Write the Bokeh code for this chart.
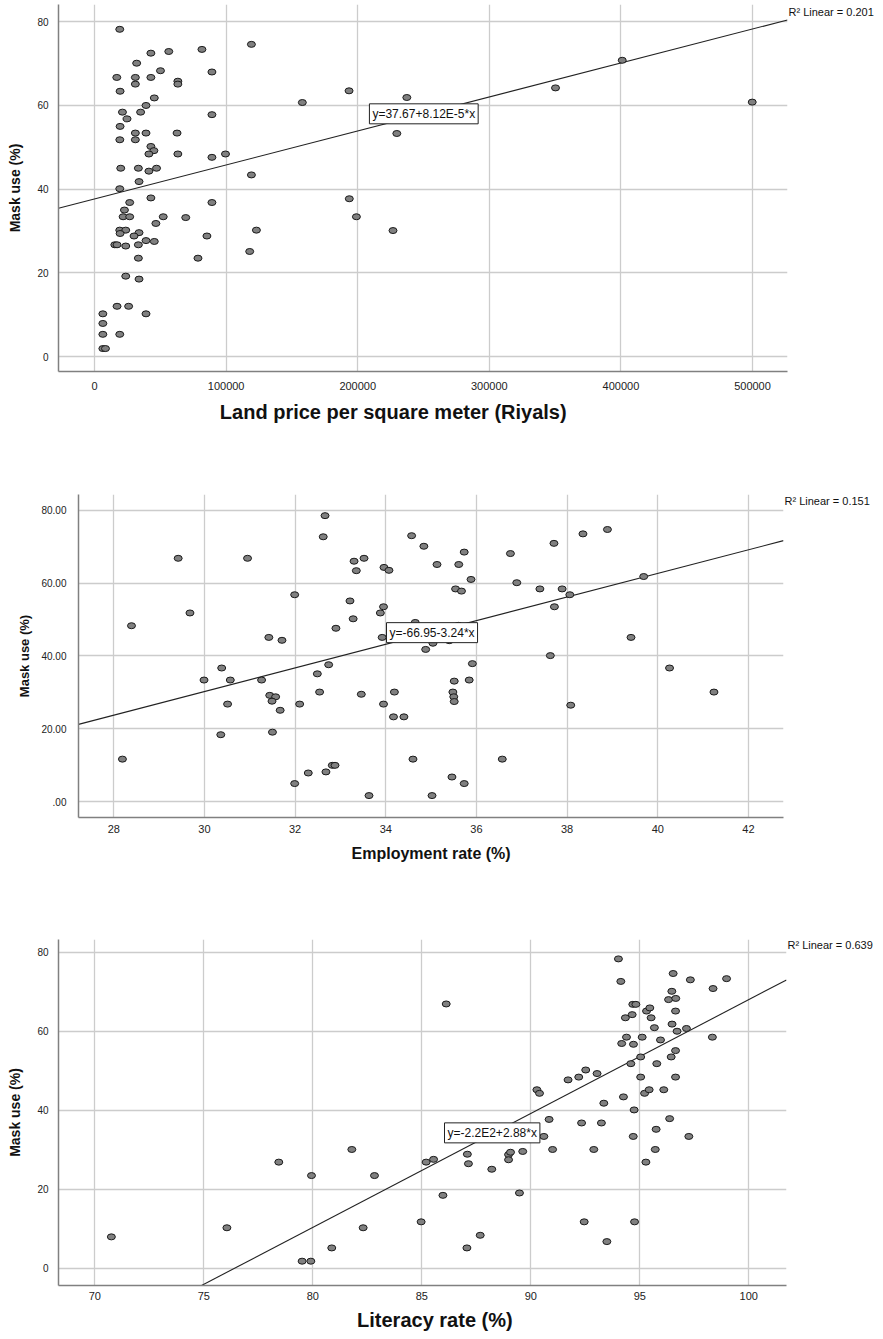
from bokeh.plotting import figure
from bokeh.models import Label, FixedTicker, Range1d, BasicTickFormatter, LinearAxis
from bokeh.embed import file_html
from bokeh.resources import INLINE

FONT = "Liberation Sans"

# ---------------- Panel 1: land price ----------------
land_price = [19150, 42800, 56400, 81600, 119200, 32000, 50100, 89200, 16900, 31000,
              42800, 63300, 31000, 63300, 19400, 45400, 39100, 21200, 35000, 89200,
              24700, 19400, 31000, 39100, 62700, 19200, 31000, 42800, 45100, 41300,
              63300, 99500, 89200, 19900, 33300, 47100, 41300, 119200, 33800, 19150,
              42800, 26700, 89200, 22700, 21700, 26700, 52200, 69300, 46600, 19150,
              23700, 123000, 19400, 33800, 30000, 85400, 39100, 45400, 15400, 17100,
              33300, 23700, 117900, 33300, 78600, 23700, 33800, 17100, 25900, 39100,
              6300, 6300, 6300, 19150, 6300, 8300, 157900, 193400, 237300, 229700,
              350300, 193600, 199000, 226800, 401000, 499800]
mask_use_1 = [78.2, 72.5, 72.9, 73.4, 74.6, 70.1, 68.3, 68.0, 66.7, 66.7,
              66.7, 65.8, 65.1, 65.1, 63.4, 61.8, 60.0, 58.4, 58.4, 57.8,
              56.8, 55.0, 53.4, 53.4, 53.4, 51.8, 51.8, 50.2, 49.2, 48.4,
              48.4, 48.4, 47.6, 45.0, 45.0, 45.0, 44.3, 43.4, 41.8, 40.1,
              37.9, 36.8, 36.8, 35.0, 33.4, 33.4, 33.4, 33.2, 31.8, 30.2,
              30.2, 30.2, 29.4, 29.6, 28.8, 28.8, 27.7, 27.5, 26.7, 26.7,
              26.7, 26.4, 25.1, 23.5, 23.5, 19.2, 18.5, 12.0, 12.0, 10.2,
              10.2, 7.9, 5.3, 5.3, 1.9, 1.9, 60.7, 63.5, 61.9, 53.3,
              64.2, 37.7, 33.4, 30.1, 70.8, 60.8]
fit1 = (37.67, 8.12e-5)
eq1_text = "y=37.67+8.12E-5*x"
r2_1_text = "R\u00b2 Linear = 0.201"
x1_title = "Land price per square meter (Riyals)"
x1_ticks = [0, 100000, 200000, 300000, 400000, 500000]
y1_ticks = [0, 20, 40, 60, 80]

# ---------------- Panel 2: employment ----------------
employment = [29.42, 30.95, 29.68, 28.39, 31.99, 31.42, 31.71, 30.38, 29.99, 30.57,
              31.26, 31.44, 31.57, 31.49, 30.51, 32.10, 31.67, 30.36, 31.50, 28.19,
              31.99,
              32.66, 32.62, 33.30, 33.52, 33.35, 33.96, 34.07, 34.57, 34.84, 35.13,
              35.61, 35.73, 35.88, 36.75, 37.71, 38.35, 36.89, 37.40, 37.89, 38.06,
              35.54, 35.67, 33.21, 37.72, 33.95, 33.88, 33.28, 32.90, 34.65, 33.92,
              35.60, 35.40, 35.04, 34.88, 37.63, 35.91, 32.74, 32.49, 35.51, 35.84,
              32.54, 33.46, 34.19, 35.48, 35.50, 35.51, 33.95, 38.08, 34.17, 34.40,
              34.60, 36.57, 32.82, 32.88, 32.68, 32.29, 35.46, 35.73, 33.63, 35.02,
              38.89, 39.69, 39.41, 40.26, 41.24]
mask_use_2 = [66.8, 66.8, 51.8, 48.3, 56.8, 45.1, 44.3, 36.7, 33.4, 33.4,
              33.4, 29.2, 28.8, 27.6, 26.8, 26.8, 25.1, 18.4, 19.1, 11.7,
              5.0,
              78.5, 72.7, 66.0, 66.8, 63.4, 64.3, 63.5, 73.0, 70.1, 65.1,
              65.1, 68.5, 61.0, 68.1, 70.9, 73.5, 60.1, 58.4, 58.4, 56.8,
              58.4, 57.8, 55.1, 53.5, 53.5, 51.8, 50.2, 47.6, 49.2, 45.1,
              48.4, 44.2, 43.5, 41.8, 40.1, 37.9, 37.6, 35.1, 33.1, 33.4,
              30.1, 29.5, 30.1, 30.1, 28.8, 27.5, 26.8, 26.5, 23.3, 23.3,
              11.7, 11.7, 10.0, 10.0, 8.2, 7.9, 6.8, 5.0, 1.7, 1.7,
              74.7, 61.8, 45.1, 36.7, 30.1]
fit2 = (-66.95, 3.24)
eq2_text = "y=-66.95-3.24*x"
r2_2_text = "R\u00b2 Linear = 0.151"
x2_title = "Employment rate (%)"
x2_ticks = [28, 30, 32, 34, 36, 38, 40, 42]
y2_ticks = [0, 20, 40, 60, 80]
y2_labels = [".00", "20.00", "40.00", "60.00", "80.00"]

# ---------------- Panel 3: literacy ----------------
literacy = [70.76, 76.06, 78.44,
            86.12, 79.94, 81.79, 82.83, 82.31, 80.87, 79.51, 79.91, 85.20, 85.54,
            84.97, 85.97, 87.09, 87.14, 87.07, 87.68, 88.21, 88.98, 89.07, 88.98,
            89.63, 89.48, 90.28, 90.40, 90.60, 90.84, 91.00, 91.71, 92.20, 92.52,
            93.04, 92.33, 92.89, 92.45,
            94.02, 94.13, 93.24, 93.35, 93.49, 94.34, 94.65, 94.68, 94.82, 94.39,
            94.17, 94.71, 95.11, 94.59, 95.04, 95.04, 94.25, 94.74, 94.70, 95.22,
            95.43, 95.78, 95.67, 95.95, 95.52, 95.31, 95.46, 95.75, 95.71, 95.28,
            96.10, 96.37, 94.76, 96.44, 96.64, 96.64, 96.48, 96.71, 97.14, 96.64,
            96.32, 96.65, 96.47, 96.53, 97.32, 98.36, 98.98, 98.33, 97.25]
mask_use_3 = [8.0, 10.3, 26.9,
              66.9, 23.5, 30.1, 23.5, 10.3, 5.2, 1.85, 1.85, 26.9, 27.6,
              11.8, 18.5, 28.9, 26.5, 5.2, 8.4, 25.1, 28.8, 29.4, 27.5,
              29.6, 19.1, 45.2, 44.3, 33.4, 37.7, 30.1, 47.7, 48.4, 50.2,
              49.3, 36.8, 30.1, 11.8,
              78.3, 72.6, 36.8, 41.8, 6.8, 63.4, 64.2, 66.8, 66.8, 58.5,
              56.9, 56.7, 58.5, 51.8, 53.5, 48.4, 43.4, 40.1, 33.4, 44.3,
              45.2, 51.8, 60.9, 57.8, 63.4, 65.1, 65.9, 35.2, 30.1, 26.9,
              45.2, 37.9, 11.8, 53.5, 55.1, 48.4, 61.8, 60.0, 60.7, 65.1,
              68.0, 68.3, 70.1, 74.6, 73.0, 70.8, 73.3, 58.5, 33.4]
fit3 = (-220.0, 2.88)
eq3_text = "y=-2.2E2+2.88*x"
r2_3_text = "R\u00b2 Linear = 0.639"
x3_title = "Literacy rate (%)"
x3_ticks = [70, 75, 80, 85, 90, 95, 100]
y3_ticks = [0, 20, 40, 60, 80]

Y_TITLE = "Mask use (%)"


def text_axis(tick, text, size, standoff, bold=False):
    """An axis with no line and one labelled tick, used to place a text in a border."""
    ax = LinearAxis(ticker=FixedTicker(ticks=[tick]),
                    major_label_overrides={tick: text},
                    axis_line_color=None, major_tick_line_color=None,
                    minor_tick_line_color=None, major_tick_out=0, major_tick_in=0,
                    major_label_standoff=standoff,
                    major_label_text_font=FONT, major_label_text_font_size=size,
                    major_label_text_color="#111111",
                    major_label_orientation="horizontal")
    if bold:
        ax.major_label_text_font_style = "bold"
    return ax


def make_panel(xs, ys, xr, yr, xticks, yticks, fit, eq_text, eq_pos,
               r2_text, r2_y, xtitle, xtitle_x, xtitle_size, ytitle_size,
               frame_w, frame_h, b_top, b_bottom, b_left, b_right,
               xlab_standoff, xtitle_standoff, ylab_standoff, ytitle_standoff,
               ylabels=None):
    p = figure(frame_width=frame_w, frame_height=frame_h,
               output_backend="svg", toolbar_location=None,
               x_range=Range1d(*xr), y_range=Range1d(*yr),
               min_border_top=b_top, min_border_bottom=b_bottom,
               min_border_left=b_left, min_border_right=b_right)
    p.outline_line_color = None
    p.background_fill_color = "white"
    p.border_fill_color = "white"

    p.xaxis.ticker = FixedTicker(ticks=xticks)
    p.yaxis.ticker = FixedTicker(ticks=yticks)
    p.xaxis.formatter = BasicTickFormatter(use_scientific=False)
    if ylabels is not None:
        p.yaxis.major_label_overrides = {t: l for t, l in zip(yticks, ylabels)}

    for ax in (p.xaxis, p.yaxis):
        ax.axis_line_color = "#808080"
        ax.axis_line_width = 1.5
        ax.major_tick_line_color = None
        ax.minor_tick_line_color = None
        ax.major_tick_out = 0
        ax.major_tick_in = 0
        ax.minor_tick_out = 0
        ax.major_label_text_font = FONT
        ax.major_label_text_color = "#222222"
        ax.axis_label_text_font = FONT
        ax.axis_label_text_font_style = "bold"
        ax.axis_label_text_color = "#111111"
    p.xaxis.major_label_text_font_size = "11px"
    p.yaxis.major_label_text_font_size = "10px"
    p.yaxis.axis_label = Y_TITLE
    p.yaxis.axis_label_text_font_size = ytitle_size
    p.xaxis.major_label_standoff = xlab_standoff
    p.yaxis.major_label_standoff = ylab_standoff
    p.yaxis.axis_label_standoff = ytitle_standoff

    p.grid.grid_line_color = "#cccccc"
    p.grid.grid_line_width = 1.3

    # fit line from the displayed coefficients
    lx = [xr[0], xr[1]]
    ly = [fit[0] + fit[1] * v for v in lx]
    p.line(lx, ly, line_color="#222222", line_width=1.1)

    p.ellipse(x=xs, y=ys, width=8, height=6, width_units="screen", height_units="screen",
              fill_color="#808080", line_color="#1a1a1a", line_width=1)

    p.add_layout(Label(x=eq_pos[0], y=eq_pos[1], text=eq_text, text_font=FONT,
                       text_font_size="12px", text_color="#111111",
                       text_align="center", text_baseline="middle",
                       background_fill_color="white", border_line_color="#222222",
                       border_line_width=1, padding=3))

    # x title (placed off-centre as in the original) and R-squared note
    p.add_layout(text_axis(xtitle_x, xtitle, xtitle_size, xtitle_standoff, bold=True), "below")
    p.add_layout(text_axis(r2_y, r2_text, "11px", 1), "right")
    return p


p1 = make_panel(land_price, mask_use_1, (-27400, 526600), (-3.585, 84.13),
                x1_ticks, y1_ticks, fit1, eq1_text, (250200, 58.0),
                r2_1_text, 82.3, x1_title, 227000, "20px", "14px",
                729, 367, 4, 68, 58, 96, 10, 8, 10, 11)
p2 = make_panel(employment, mask_use_2, (27.221, 42.774), (-4.31, 84.3),
                x2_ticks, y2_ticks, fit2, eq2_text, (35.02, 46.4),
                r2_2_text, 82.4, x2_title, 35.0, "16px", "13px",
                705, 323, 55, 62, 78, 100, 7, 9, 12, 6,
                ylabels=y2_labels)
p3 = make_panel(literacy, mask_use_3, (68.335, 101.73), (-4.3, 83.2),
                x3_ticks, y3_ticks, fit3, eq3_text, (88.23, 34.3),
                r2_3_text, 81.7, x3_title, 85.6, "20px", "14px",
                728, 346, 60, 50, 58, 97, 6, 6, 10, 11)

open("out.html", "w").write(file_html([p1, p2, p3], INLINE))
